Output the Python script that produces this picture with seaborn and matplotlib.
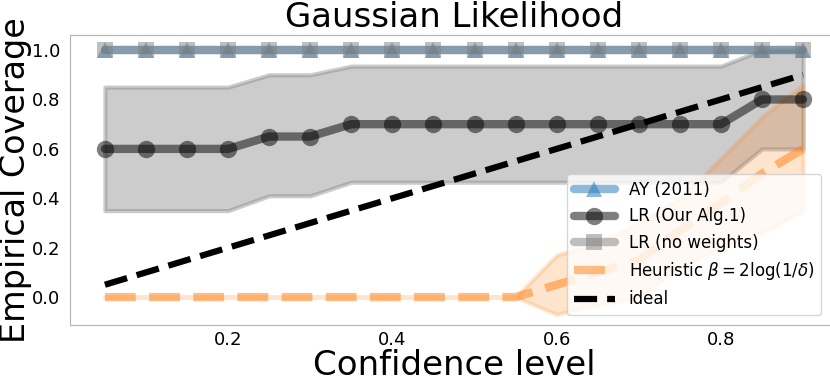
import numpy as np
import pandas as pd
import matplotlib
matplotlib.use('Agg')
import matplotlib.pyplot as plt
import seaborn as sns

# confidence levels
conf = [0.05, 0.1, 0.15, 0.2, 0.25, 0.3, 0.35, 0.4, 0.45, 0.5,
        0.55, 0.6, 0.65, 0.7, 0.75, 0.8, 0.85, 0.9]

ay_cov = [1.0] * 18
lr_nw_cov = [1.0] * 18

lr_cov = [0.6, 0.6, 0.6, 0.6, 0.65, 0.65, 0.7, 0.7, 0.7, 0.7,
          0.7, 0.7, 0.7, 0.7, 0.7, 0.7, 0.8, 0.8]
lr_lo = [0.35, 0.35, 0.35, 0.35, 0.41, 0.41, 0.465, 0.465, 0.465, 0.465,
         0.465, 0.465, 0.465, 0.465, 0.465, 0.465, 0.6, 0.6]
lr_hi = [0.85, 0.85, 0.85, 0.85, 0.9, 0.9, 0.935, 0.935, 0.935, 0.935,
         0.935, 0.935, 0.935, 0.935, 0.935, 0.935, 1.0, 1.0]

heur_cov = [0.0, 0.0, 0.0, 0.0, 0.0, 0.0, 0.0, 0.0, 0.0, 0.0,
            0.0, 0.05, 0.1, 0.15, 0.27, 0.38, 0.5, 0.6]
heur_lo = [0.0, 0.0, 0.0, 0.0, 0.0, 0.0, 0.0, 0.0, 0.0, 0.0,
           0.0, -0.07, -0.03, 0.0, 0.12, 0.2, 0.26, 0.35]
heur_hi = [0.0, 0.0, 0.0, 0.0, 0.0, 0.0, 0.0, 0.0, 0.0, 0.0,
           0.0, 0.17, 0.22, 0.3, 0.4, 0.56, 0.73, 0.86]

ideal = conf

sns.set_style('white')
plt.rcParams['font.family'] = ['DejaVu Sans']
plt.rcParams['text.color'] = 'black'
plt.rcParams['axes.labelcolor'] = 'black'
plt.rcParams['xtick.color'] = 'black'
plt.rcParams['ytick.color'] = 'black'

fig = plt.figure(figsize=(8.3, 3.85), dpi=100)
ax = fig.add_axes([70/830, 60/385, 768/830, 290/385])

# bands
ax.fill_between(conf, lr_lo, lr_hi, color='gray', alpha=0.4, lw=3, zorder=1)
ax.fill_between(conf, heur_lo, heur_hi, color='tab:orange', alpha=0.2, lw=3, zorder=1)

sns.lineplot(x=conf, y=ay_cov, ax=ax, color='tab:blue', alpha=0.5, lw=6,
             marker='^', markersize=12, markeredgewidth=0, label='AY (2011)', zorder=3)
sns.lineplot(x=conf, y=lr_cov, ax=ax, color='black', alpha=0.5, lw=6,
             marker='o', markersize=12.5, markeredgewidth=0, label='LR (Our Alg.1)', zorder=3)
sns.lineplot(x=conf, y=lr_nw_cov, ax=ax, color='gray', alpha=0.5, lw=6,
             marker='s', markersize=12, markeredgewidth=0, label='LR (no weights)', zorder=4)
sns.lineplot(x=conf, y=heur_cov, ax=ax, color='tab:orange', alpha=0.5, lw=6,
             linestyle='--', label=r'Heuristic $\beta = 2\log(1/\delta)$', zorder=3)
sns.lineplot(x=conf, y=ideal, ax=ax, color='black', lw=4.5,
             linestyle='--', label='ideal', zorder=5)

ax.set_xlim(0.0075, 0.9425)
ax.set_ylim(-0.113, 1.061)
ax.set_xticks([0.2, 0.4, 0.6, 0.8])
ax.set_yticks([0.0, 0.2, 0.4, 0.6, 0.8, 1.0])
ax.tick_params(labelsize=13)
ax.tick_params(axis='x', pad=1)
for s in ax.spines.values():
    s.set_color('0.7')

ax.set_title('Gaussian Likelihood', fontsize=24.5)
ax.set_xlabel('Confidence level', fontsize=24.5, labelpad=0)
ax.set_ylabel('Empirical Coverage', fontsize=24, labelpad=0)

ax.legend(loc='lower right', bbox_to_anchor=(0.978, 0.034), borderaxespad=0,
          fontsize=12, handlelength=2.5)

fig.savefig('out.png', dpi=100)
